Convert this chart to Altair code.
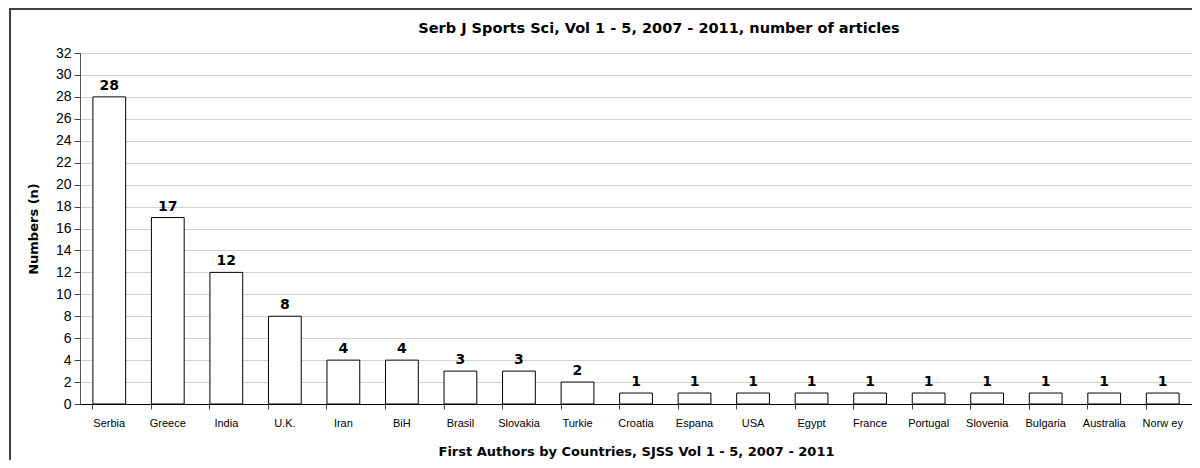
import altair as alt
import pandas as pd

countries = ["Serbia", "Greece", "India", "U.K.", "Iran", "BiH", "Brasil", "Slovakia", "Turkie",
             "Croatia", "Espana", "USA", "Egypt", "France", "Portugal", "Slovenia", "Bulgaria",
             "Australia", "Norw ey"]
articles = [28, 17, 12, 8, 4, 4, 3, 3, 2, 1, 1, 1, 1, 1, 1, 1, 1, 1, 1]
y_ticks = list(range(0, 33, 2))
chart_title = "Serb J Sports Sci, Vol 1 - 5, 2007 - 2011, number of articles"

df = pd.DataFrame({"country": countries, "n": articles})

W, H = 1112, 351
PL, PT = 72, 45
PB = 452 - PT - H
PR = 0

xenc = alt.X("country:N", sort=countries,
             scale=alt.Scale(paddingInner=0.44, paddingOuter=0.22),
             axis=alt.Axis(title="First Authors by Countries, SJSS Vol 1 - 5, 2007 - 2011",
                           titleFont="DejaVu Sans", titleFontSize=13, titleFontWeight="bold",
                           titleColor="#000", titlePadding=17,
                           labelAngle=0, labelFont="Liberation Sans", labelFontSize=11,
                           labelColor="#000", labelPadding=8,
                           bandPosition=0, tickSize=5, tickColor="#444", domainColor="#000",
                           grid=False))
yenc = alt.Y("n:Q", scale=alt.Scale(domain=[0, 32], nice=False),
             axis=alt.Axis(values=y_ticks, title="Numbers (n)", labelOverlap=False,
                           titleFont="DejaVu Sans", titleFontSize=13, titleFontWeight="bold",
                           titleColor="#000", titlePadding=15,
                           labelFont="Liberation Sans", labelFontSize=14, labelColor="#000",
                           labelPadding=3, tickSize=6, tickColor="#444",
                           domainColor="#555", gridColor="#d0d0d0", grid=True))

frame_top = alt.Chart(df).mark_rule(stroke="#404040", strokeWidth=2, clip=False).encode(
    x=alt.value(-PL + 1), x2=alt.value(W + PR), y=alt.value(-PT + 1)
).transform_filter(alt.datum.country == "Serbia")
frame_left = alt.Chart(df).mark_rule(stroke="#404040", strokeWidth=2, clip=False).encode(
    x=alt.value(-PL + 2), y=alt.value(-PT), y2=alt.value(H + PB)
).transform_filter(alt.datum.country == "Serbia")

title_mark = alt.Chart(df).mark_text(text=chart_title, font="DejaVu Sans", fontWeight="bold",
                                     fontSize=14.5, color="black", align="center",
                                     baseline="middle").encode(
    x=alt.value(579), y=alt.value(-24)
).transform_filter(alt.datum.country == "Serbia")

bars = alt.Chart(df).mark_bar(fill="white", stroke="black", strokeWidth=1).encode(x=xenc, y=yenc)

labels = alt.Chart(df).mark_text(font="DejaVu Sans", fontWeight="bold", fontSize=14,
                                 baseline="bottom", dy=-4, color="black").encode(
    x=xenc, y=yenc, text="n:Q")

chart = alt.layer(bars, labels, frame_top, frame_left, title_mark).properties(
    width=W, height=H,
    background="white",
    padding={"left": PL, "top": PT, "right": PR, "bottom": PB},
    autosize=alt.AutoSizeParams(type="none"),
).configure_view(stroke=None)

chart.save("out.html", embed_options={"renderer": "svg", "actions": False})
